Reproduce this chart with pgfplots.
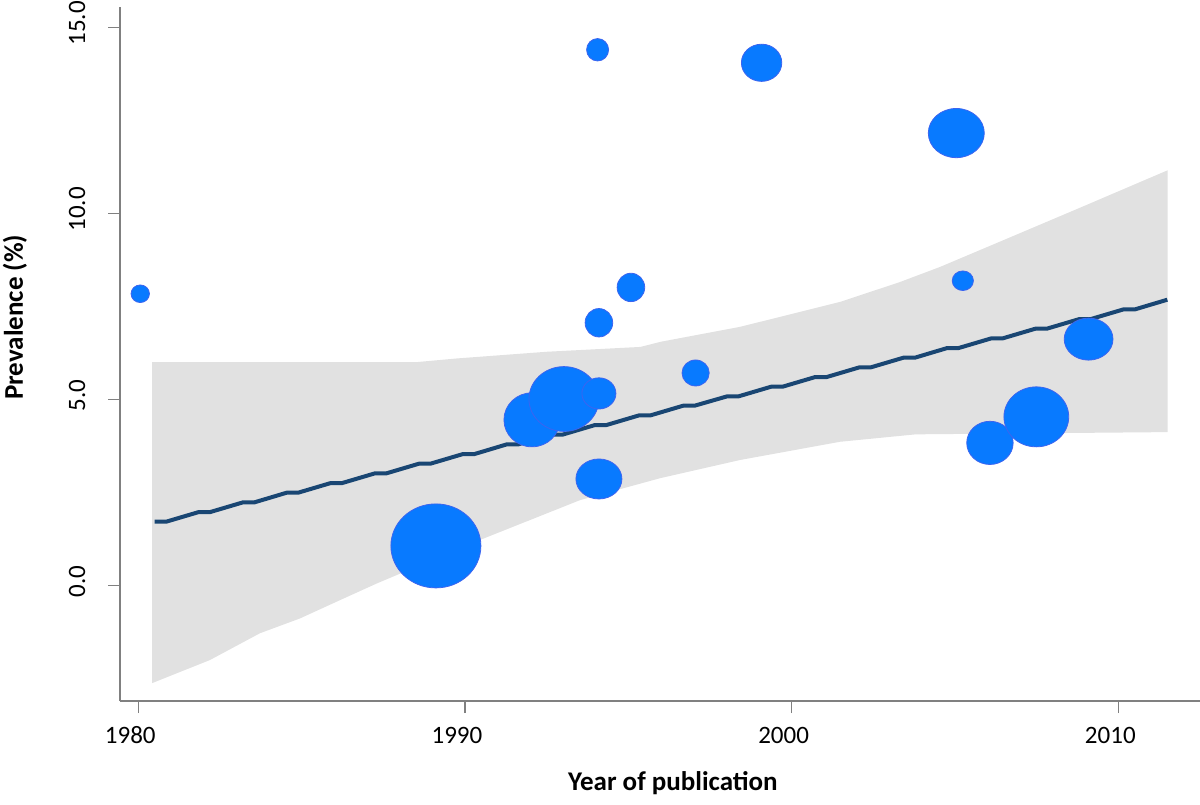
\documentclass[border=0pt]{standalone}
\usepackage{fontspec}
\setmainfont{Carlito}
\usepackage{pgfplots}
\pgfplotsset{compat=1.18}
\definecolor{bub}{RGB}{8,122,255}
\definecolor{bubedge}{RGB}{60,100,240}
\definecolor{band}{RGB}{225,225,225}
\definecolor{fit}{RGB}{25,70,115}
\definecolor{axgray}{RGB}{128,128,128}
\pgfdeclareplotmark{bubble}{%
  \pgfpathellipse{\pgfpointorigin}{\pgfpoint{\bubrx pt}{0pt}}{\pgfpoint{0pt}{\bubry pt}}%
  \pgfusepathqfillstroke}
\pgfplotstableread{
x y rx ry
1980.06 7.84 4.6 4.4
1989.11 1.06 22.5 21.0
1992.05 4.45 14.0 13.5
1993.03 5.01 17.5 16.2
1994.06 14.40 5.5 5.6
1994.10 7.06 6.9 7.1
1994.10 5.16 8.5 7.8
1994.10 2.86 11.5 10.0
1995.08 8.01 6.9 7.1
1997.06 5.71 6.8 6.5
1999.08 14.05 10.1 9.3
2005.04 12.16 14.0 12.3
2005.24 8.19 5.3 4.9
2006.07 3.83 11.6 10.8
2007.49 4.53 16.2 15.0
2009.09 6.62 12.2 10.5
}\studies
\begin{document}
\begin{tikzpicture}
\begin{axis}[name=ax, scale only axis, width=540pt, height=347pt,
  xmin=1979.44, xmax=2012.50, ymin=-3.11, ymax=15.55,
  axis x line*=bottom, axis y line*=left,
  axis line style={axgray, line width=0.75pt, -},
  tick style={axgray, line width=0.75pt}, tick align=outside, major tick length=6pt,
  xtick={1980,1990,2000,2010}, ytick={0,5,10,15},
  /pgf/number format/assume math mode=true,
  xticklabel style={/pgf/number format/1000 sep={}, font=\fontsize{12.5}{14}\selectfont, anchor=center, yshift=-11pt, xshift=-4pt},
  yticklabel style={/pgf/number format/.cd, fixed, fixed zerofill, precision=1, /tikz/.cd,
    font=\fontsize{12.5}{14}\selectfont, anchor=center, xshift=-15.5pt, yshift=2pt, rotate=90},
  every axis x label/.style={at={(axis description cs:0.512,-0.118)}, anchor=center},
  every axis y label/.style={at={(axis description cs:-0.0972,0.553)}, rotate=90, anchor=center},
  xlabel={\fontsize{13.5}{16}\selectfont\bfseries Year of publication},
  ylabel={\fontsize{13.5}{16}\selectfont\bfseries Prevalence (\%)},
]
\addplot[fill=band, draw=none] coordinates {
 (1980.42,6.00) (1988.5,6.00) (1989.75,6.10) (1992.5,6.28) (1995.37,6.41) (1996.0,6.55)
 (1998.42,6.95) (2001.48,7.62) (2003.3,8.15) (2004.54,8.56) (2006.4,9.25) (2008.82,10.15)
 (2011.51,11.16)
 (2011.51,4.12) (2003.8,4.06) (2001.48,3.86) (1998.42,3.37) (1995.97,2.88) (1993.52,2.29)
 (1990.46,1.22) (1987.3,0.05) (1986.17,-0.40) (1984.95,-0.89) (1983.72,-1.29)
 (1982.19,-2.01) (1980.42,-2.63)
} -- cycle;
\addplot[fit, line width=2pt, line join=round] coordinates {
 (1980.50,1.71) (1980.85,1.71) (1981.85,1.97) (1982.20,1.97) (1983.20,2.23) (1983.55,2.23)
 (1984.54,2.49) (1984.89,2.49) (1985.89,2.75) (1986.24,2.75) (1987.24,3.01) (1987.59,3.01)
 (1988.59,3.27) (1988.94,3.27) (1989.94,3.53) (1990.29,3.53) (1991.28,3.79) (1991.63,3.79)
 (1992.63,4.05) (1992.98,4.05) (1993.98,4.31) (1994.33,4.31) (1995.33,4.57) (1995.68,4.57)
 (1996.68,4.83) (1997.03,4.83) (1998.02,5.08) (1998.37,5.08) (1999.37,5.34) (1999.72,5.34)
 (2000.72,5.60) (2001.07,5.60) (2002.07,5.86) (2002.42,5.86) (2003.42,6.12) (2003.77,6.12)
 (2004.76,6.38) (2005.11,6.38) (2006.11,6.64) (2006.46,6.64) (2007.46,6.90) (2007.81,6.90)
 (2008.81,7.16) (2009.16,7.16) (2010.16,7.42) (2010.51,7.42) (2011.50,7.68)
};
\addplot[only marks, scatter, mark=bubble,
  scatter/use mapped color={draw=bubedge, fill=bub},
  mark options={line width=0.4pt},
  visualization depends on={\thisrow{rx} \as \bubrx},
  visualization depends on={\thisrow{ry} \as \bubry},
] table[x=x, y=y] {\studies};
\end{axis}
\pgfresetboundingbox
\path[use as bounding box] ([shift={(-60pt,-51.5pt)}]ax.south west) rectangle ([shift={(0pt,3.5pt)}]ax.north east);
\end{tikzpicture}
\end{document}
